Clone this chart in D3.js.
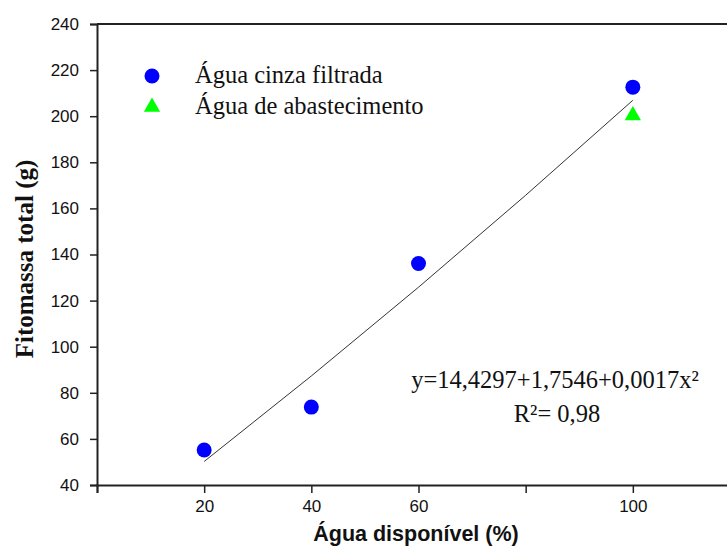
<html><head>
<meta charset="UTF-8">
<title>Fitomassa total</title>
<script src="https://cdnjs.cloudflare.com/ajax/libs/d3/7.8.4/d3.min.js"></script>
<style>
    body { margin: 0; background: #fff; }
    svg { display: block; }
    .serif { font-family: "Times New Roman", "Liberation Serif", serif; fill: #111; }
</style>
</head>
<body>
<div id="chart"></div>
<script>
    // data
    var aguaDisponivel = [20, 40, 60, 100];
    var cinzaFiltrada = [55.2, 73.8, 136.1, 212.6];
    var abastecimentoX = [100];
    var abastecimento = [200.3];
    // fitted curve as drawn
    var fitX = [20, 40, 60, 80, 100];
    var fitY = [50.2, 87.3, 125.8, 165.7, 206.9];
    var xTicks = [0, 20, 40, 60, 80, 100, 120];
    var xLabels = [20, 40, 60, 100];
    var yTicks = [40, 60, 80, 100, 120, 140, 160, 180, 200, 220, 240];

    var width = 727, height = 547;
    var svg = d3.select("#chart").append("svg")
        .attr("width", width).attr("height", height);

    var x = d3.scaleLinear().domain([0, 120]).range([97, 740]);
    var y = d3.scaleLinear().domain([40, 240]).range([485, 24]);

    // frame (top + right, partly outside the window)
    svg.append("path")
        .attr("d", "M" + x(0) + "," + y(240) + "H" + x(120) + "V" + y(40))
        .attr("fill", "none").attr("stroke", "#222").attr("stroke-width", 2);

    var yAxis = svg.append("g")
        .attr("transform", "translate(" + x(0) + ",0)")
        .call(d3.axisLeft(y).tickValues(yTicks).tickSize(7).tickPadding(11));
    yAxis.select(".domain").attr("stroke", "#222").attr("stroke-width", 2);
    yAxis.selectAll(".tick line").attr("stroke", "#222").attr("stroke-width", 1.5);

    var xAxis = svg.append("g")
        .attr("transform", "translate(0," + y(40) + ")")
        .call(d3.axisBottom(x).tickValues(xTicks).tickSize(8).tickPadding(7)
            .tickFormat(function(d) { return xLabels.indexOf(d) >= 0 ? d : ""; }));
    xAxis.select(".domain").attr("stroke", "#222").attr("stroke-width", 2);
    xAxis.selectAll(".tick line").attr("stroke", "#222").attr("stroke-width", 1.5);

    svg.selectAll(".tick text")
        .style("font-family", "Arial, 'Liberation Sans', sans-serif")
        .style("font-size", "17px").style("fill", "#111");

    // axis titles
    svg.append("text")
        .attr("x", 416).attr("y", 541)
        .attr("text-anchor", "middle")
        .style("font-family", "Arial, 'Liberation Sans', sans-serif")
        .style("font-size", "21.5px").style("font-weight", "bold").style("fill", "#111")
        .text("Água disponível (%)");

    svg.append("text")
        .attr("class", "serif")
        .attr("transform", "translate(33,259) rotate(-90)")
        .attr("text-anchor", "middle")
        .style("font-size", "25px").style("font-weight", "bold")
        .text("Fitomassa total (g)");

    // fitted curve
    var line = d3.line().x(function(d) { return x(d[0]); }).y(function(d) { return y(d[1]); });
    svg.append("path")
        .datum(fitX.map(function(v, i) { return [v, fitY[i]]; }))
        .attr("d", line)
        .attr("fill", "none").attr("stroke", "#333").attr("stroke-width", 1);

    // points
    svg.selectAll("circle.cinza")
        .data(aguaDisponivel)
        .enter().append("circle")
        .attr("class", "cinza")
        .attr("cx", function(d) { return x(d); })
        .attr("cy", function(d, i) { return y(cinzaFiltrada[i]); })
        .attr("r", 7.5)
        .attr("fill", "#0000ff");

    var tri = d3.symbol().type(d3.symbolTriangle).size(115);
    svg.selectAll("path.abast")
        .data(abastecimentoX)
        .enter().append("path")
        .attr("class", "abast")
        .attr("d", tri)
        .attr("transform", function(d, i) { return "translate(" + x(d) + "," + y(abastecimento[i]) + ")"; })
        .attr("fill", "#00ff00");

    // legend
    svg.append("circle").attr("cx", 152).attr("cy", 76).attr("r", 7.5).attr("fill", "#0000ff");
    svg.append("path").attr("d", tri).attr("transform", "translate(152,107)").attr("fill", "#00ff00");
    svg.append("text").attr("class", "serif").attr("x", 195).attr("y", 83)
        .style("font-size", "24.5px").text("Água cinza filtrada");
    svg.append("text").attr("class", "serif").attr("x", 195).attr("y", 114)
        .style("font-size", "24.5px").text("Água de abastecimento");

    // equation
    svg.append("text").attr("class", "serif").attr("x", 555).attr("y", 388)
        .attr("text-anchor", "middle").style("font-size", "24.5px")
        .text("y=14,4297+1,7546+0,0017x²");
    svg.append("text").attr("class", "serif").attr("x", 557).attr("y", 422)
        .attr("text-anchor", "middle").style("font-size", "24.5px")
        .text("R²= 0,98");
</script>
</body>
</html>
